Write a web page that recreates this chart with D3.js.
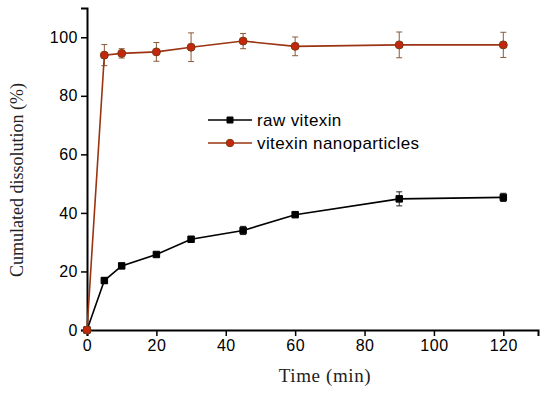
<!DOCTYPE html>
<html>
<head>
<meta charset="utf-8">
<script src="https://cdn.jsdelivr.net/npm/d3@7"></script>
<style>
  body { margin: 0; background: #fff; }
  svg { display: block; }
</style>
</head>
<body>
<svg width="550" height="393"></svg>
<script>
  // data
  const times = [0, 5, 10, 20, 30, 45, 60, 90, 120];
  const rawValues = [0, 16.9, 21.9, 25.8, 31.0, 34.0, 39.4, 44.8, 45.3];
  const rawErrors = [0, 1.0, 0.8, 0.6, 0.6, 1.4, 0.8, 2.4, 1.4];
  const nanoValues = [0, 93.9, 94.5, 95.0, 96.6, 98.7, 96.9, 97.4, 97.4];
  const nanoErrors = [0, 3.6, 1.6, 3.2, 4.9, 2.6, 3.2, 4.4, 4.3];
  const seriesNames = ["raw vitexin", "vitexin nanoparticles"];
  const xTicks = [0, 20, 40, 60, 80, 100, 120];
  const yTicks = [0, 20, 40, 60, 80, 100];

  const svg = d3.select("svg");

  const x = d3.scaleLinear().domain([0, 130]).range([87, 538]);
  const y = d3.scaleLinear().domain([0, 110]).range([330, 8]);

  const sans = "'Liberation Sans', Arial, sans-serif";
  const serif = "'Palatino Linotype', 'Book Antiqua', 'Liberation Serif', serif";

  // x axis
  const xAxis = svg.append("g").attr("transform", "translate(0,330)");
  xAxis.call(d3.axisBottom(x).tickValues(d3.range(0, 131, 10)).tickSize(4).tickFormat(""))
  xAxis.call(d3.axisBottom(x).tickValues(xTicks).tickSize(6).tickPadding(4))
  xAxis.selectAll("path").attr("stroke", "#000").attr("stroke-width", 2);
  xAxis.selectAll("line").attr("stroke", "#000").attr("stroke-width", 1.5);
  xAxis.selectAll("text").style("font-family", sans).style("font-size", "16px")
      .style("letter-spacing", "0.5px").attr("fill", "#000");

  // y axis
  const yAxis = svg.append("g").attr("transform", "translate(87,0)");
  yAxis.call(d3.axisLeft(y).tickValues(d3.range(0, 111, 10)).tickSize(4).tickFormat(""))
  yAxis.call(d3.axisLeft(y).tickValues(yTicks).tickSize(6).tickPadding(3))
  yAxis.selectAll("path").attr("stroke", "#000").attr("stroke-width", 2);
  yAxis.selectAll("line").attr("stroke", "#000").attr("stroke-width", 1.5);
  yAxis.selectAll("text").style("font-family", sans).style("font-size", "16px")
      .style("letter-spacing", "0.5px").attr("fill", "#000");

  // titles
  svg.append("text")
      .attr("x", 325)
      .attr("y", 382)
      .attr("text-anchor", "middle")
      .style("font-family", serif)
      .style("font-size", "19px")
      .style("letter-spacing", "0.6px")
      .attr("fill", "#222")
      .text("Time (min)");

  svg.append("text")
      .attr("transform", "translate(23,180) rotate(-90)")
      .attr("text-anchor", "middle")
      .style("font-family", serif)
      .style("font-size", "18px")
      .attr("fill", "#222")
      .text("Cumulated dissolution (%)");

  const series = [
    { name: seriesNames[0], values: rawValues, errors: rawErrors, line: "#000", fill: "#000", stroke: "#000", shape: "square", bar: "#222" },
    { name: seriesNames[1], values: nanoValues, errors: nanoErrors, line: "#9a3412", fill: "#c4260e", stroke: "#7a3a10", shape: "circle", bar: "#8a5a3a" }
  ];

  const line = d3.line()
      .x(d => x(d.t))
      .y(d => y(d.v));

  series.forEach(s => {
    const pts = times.map((t, i) => ({ t: t, v: s.values[i], e: s.errors[i] }));
    const g = svg.append("g");

    // error bars
    const eb = g.selectAll("g.err")
        .data(pts.filter(d => d.e > 0))
        .join("g")
        .attr("stroke", s.bar)
        .attr("stroke-width", 1);
    eb.append("line")
        .attr("x1", d => x(d.t)).attr("x2", d => x(d.t))
        .attr("y1", d => y(d.v + d.e)).attr("y2", d => y(d.v - d.e));
    eb.append("line")
        .attr("x1", d => x(d.t) - 3).attr("x2", d => x(d.t) + 3)
        .attr("y1", d => y(d.v + d.e)).attr("y2", d => y(d.v + d.e));
    eb.append("line")
        .attr("x1", d => x(d.t) - 3).attr("x2", d => x(d.t) + 3)
        .attr("y1", d => y(d.v - d.e)).attr("y2", d => y(d.v - d.e));

    g.append("path")
        .datum(pts)
        .attr("fill", "none")
        .attr("stroke", s.line)
        .attr("stroke-width", 1.6)
        .attr("d", line);

    const sym = d3.symbol().type(s.shape == "square" ? d3.symbolSquare : d3.symbolCircle).size(s.shape == "square" ? 42 : 50);
    g.selectAll("path.mark")
        .data(pts)
        .join("path")
        .attr("class", "mark")
        .attr("transform", d => "translate(" + x(d.t) + "," + y(d.v) + ")")
        .attr("d", sym)
        .attr("fill", s.fill)
        .attr("stroke", s.stroke)
        .attr("stroke-width", 1);
  });

  // legend
  const legend = svg.append("g").attr("transform", "translate(208,120)");
  series.forEach((s, i) => {
    const row = legend.append("g").attr("transform", "translate(0," + (i * 23) + ")");
    row.append("line")
        .attr("x1", 0).attr("x2", 44)
        .attr("stroke", s.line).attr("stroke-width", 1.6);
    row.append("path")
        .attr("transform", "translate(22,0)")
        .attr("d", d3.symbol().type(s.shape == "square" ? d3.symbolSquare : d3.symbolCircle).size(s.shape == "square" ? 36 : 44))
        .attr("fill", s.fill)
        .attr("stroke", s.stroke);
    row.append("text")
        .attr("x", 49)
        .attr("dy", "0.35em")
        .style("font-family", sans)
        .style("font-size", "17px")
        .style("letter-spacing", "0.4px")
        .text(s.name);
  });
</script>
</body>
</html>
